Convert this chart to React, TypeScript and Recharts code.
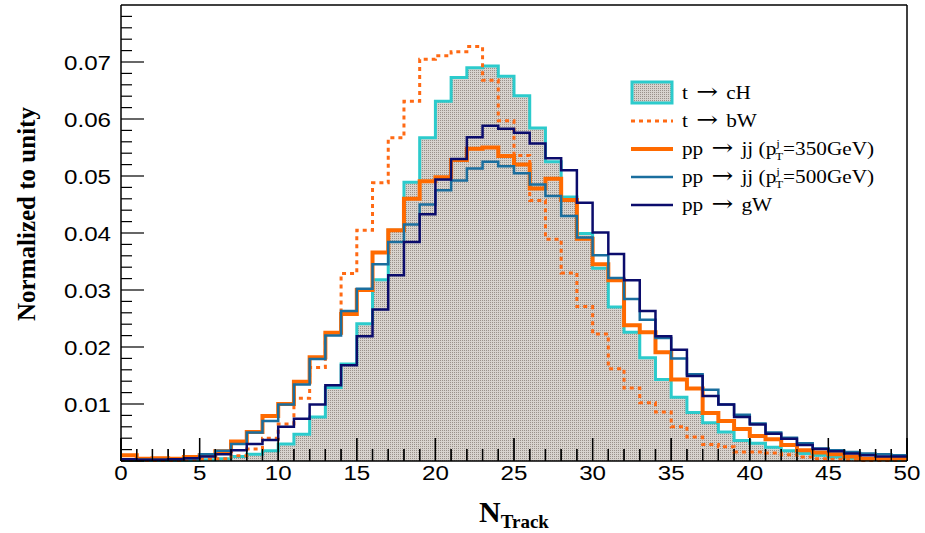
import React from "react";
import { ComposedChart, Area, Line, XAxis, YAxis, Legend, Label, ReferenceLine } from "recharts";

// bin lower edges, width 1, N_Track 0..50
const binEdges = Array.from({ length: 50 }, (_, i) => i);

const tToCH = [
  0.0001, 0.0001, 0.0001, 0.0001, 0.0001, 0.0002, 0.0004, 0.0008, 0.0012, 0.0018,
  0.003, 0.0047, 0.0077, 0.0129, 0.017, 0.0241, 0.0318, 0.0405, 0.0489, 0.0567,
  0.0631, 0.0673, 0.069, 0.0693, 0.0675, 0.0641, 0.0584, 0.0525, 0.0463, 0.0399,
  0.0338, 0.027, 0.0226, 0.0181, 0.0143, 0.0112, 0.0085, 0.0067, 0.0051, 0.0036,
  0.0031, 0.0024, 0.0018, 0.0013, 0.001, 0.0007, 0.0005, 0.0003, 0.0002, 0.0001,
];

const tToBW = [
  0.0001, 0.0001, 0.0001, 0.0001, 0.0002, 0.0003, 0.0004, 0.0009, 0.0021, 0.004,
  0.0065, 0.011, 0.0164, 0.0225, 0.0329, 0.0405, 0.0488, 0.0567, 0.0631, 0.0705,
  0.0711, 0.0718, 0.0727, 0.0668, 0.0597, 0.0536, 0.0457, 0.0389, 0.033, 0.0271,
  0.0223, 0.0162, 0.0128, 0.0102, 0.0086, 0.006, 0.0042, 0.0029, 0.0025, 0.0016,
  0.0016, 0.0014, 0.0011, 0.0007, 0.0004, 0.0003, 0.0002, 0.0001, 0.0001, 0.0001,
];

const ppJJ350 = [
  0.001, 0.0004, 0.0005, 0.0004, 0.0007, 0.001, 0.0017, 0.0034, 0.0051, 0.0079,
  0.01, 0.0139, 0.0182, 0.0225, 0.0258, 0.03, 0.0366, 0.0405, 0.046, 0.0491,
  0.0498, 0.0528, 0.0548, 0.055, 0.0535, 0.052, 0.0478, 0.0495, 0.0458, 0.039,
  0.0345, 0.0317, 0.0238, 0.0226, 0.0191, 0.0143, 0.0127, 0.0084, 0.007, 0.0056,
  0.0044, 0.0038, 0.0028, 0.0019, 0.0015, 0.0012, 0.0008, 0.0004, 0.0004, 0.0005,
];

const ppJJ500 = [
  0.0003, 0.0002, 0.0002, 0.0003, 0.0005, 0.0012, 0.0018, 0.003, 0.005, 0.007,
  0.0099, 0.0134, 0.0179, 0.022, 0.0263, 0.0302, 0.0345, 0.0384, 0.0415, 0.045,
  0.0475, 0.0492, 0.0513, 0.0525, 0.0517, 0.0505, 0.0485, 0.0465, 0.043, 0.0392,
  0.0361, 0.0321, 0.0284, 0.0248, 0.0216, 0.018, 0.0152, 0.0125, 0.0099, 0.0081,
  0.0066, 0.005, 0.0041, 0.0031, 0.0022, 0.0019, 0.0016, 0.0013, 0.0012, 0.001,
];

const ppGW = [
  0.0003, 0.0002, 0.0002, 0.0003, 0.0005, 0.0008, 0.0012, 0.0019, 0.003, 0.0037,
  0.006, 0.0074, 0.0099, 0.0133, 0.0168, 0.0219, 0.0266, 0.0326, 0.0384, 0.0433,
  0.0494, 0.053, 0.0568, 0.0588, 0.0583, 0.0576, 0.0557, 0.0531, 0.051, 0.0453,
  0.0401, 0.0363, 0.0317, 0.0263, 0.0219, 0.0195, 0.0149, 0.0114, 0.0099, 0.0077,
  0.0064, 0.0048, 0.0039, 0.0028, 0.0021, 0.0017, 0.0013, 0.001, 0.0008, 0.0008,
];

const xTicks = Array.from({ length: 51 }, (_, i) => i);
const yTicks = Array.from({ length: 40 }, (_, i) => i * 0.002);

const ARROW = "\u2192";

const series = [
  { key: "cH", values: tToCH, color: "#2ccbcc", width: 3, dash: undefined, fill: true,
    label: { a: "t", b: "cH" } },
  { key: "bW", values: tToBW, color: "#ff6a14", width: 3, dash: "4 4", fill: false,
    label: { a: "t", b: "bW" } },
  { key: "jj350", values: ppJJ350, color: "#ff6a00", width: 4, dash: undefined, fill: false,
    label: { a: "pp", b: "jj (p", sup: "j", sub: "T", post: "=350GeV)" } },
  { key: "jj500", values: ppJJ500, color: "#1a6e9e", width: 2.5, dash: undefined, fill: false,
    label: { a: "pp", b: "jj (p", sup: "j", sub: "T", post: "=500GeV)" } },
  { key: "gW", values: ppGW, color: "#0b0c6c", width: 2.5, dash: undefined, fill: false,
    label: { a: "pp", b: "gW" } },
];

// last point repeats the final bin so the step closes at 50
const data = [...binEdges, 50].map((x, i) => {
  const row: Record<string, number> = { x };
  series.forEach((s) => {
    row[s.key] = s.values[Math.min(i, s.values.length - 1)];
  });
  return row;
});

const W = 925;
const H = 533;
const LEFT = 121;
const RIGHT = 907;
const TOP = 5;
const BOTTOM = 461;
const Y_AXIS_W = 100;
const X_AXIS_H = 40;
const X_TICK_GAP = 4;
const Y_TICK_GAP = 10;
const X_MAX = 50;
const Y_MAX = 0.08;
const X_DOMAIN = [0, X_MAX];
const Y_DOMAIN = [0, Y_MAX];
// x tick marks point up into the frame: convert their pixel length to y units
const PX_TO_Y = Y_MAX / (BOTTOM - TOP);
const tickFont = "'Liberation Sans', Arial, sans-serif";
const serif = "'Liberation Serif', 'Times New Roman', serif";

const XTick = (props: any) => {
  const { x, y, payload } = props;
  const v = payload.value as number;
  const major = v % 5 === 0;
  const axisY = y - X_TICK_GAP;
  return (
    <g>
      <path d={`M${x},${axisY}V${axisY - (major ? 23 : 12)}`} stroke="#000" strokeWidth={1.3} fill="none" />
      {major && (
        <text transform={`translate(${x},${y}) scale(1.15,1)`} dy="0.72em" textAnchor="middle"
          fontFamily={tickFont} fontSize={21} fill="#000">
          {v}
        </text>
      )}
    </g>
  );
};

const YTick = (props: any) => {
  const { x, y, payload } = props;
  const v = payload.value as number;
  const k = Math.round(v * 1000);
  const major = k % 10 === 0;
  const axisX = x + Y_TICK_GAP;
  return (
    <g>
      <line x1={axisX} x2={axisX + (major ? 23 : 11)} y1={y} y2={y} stroke="#000" strokeWidth={1.2} />
      {major && k > 0 && (
        <text transform={`translate(${x},${y}) scale(1.15,1)`} dy="0.36em" textAnchor="end"
          fontFamily={tickFont} fontSize={21} fill="#000">
          {v.toFixed(2)}
        </text>
      )}
    </g>
  );
};

const XTitle = () => (
  <text x={(LEFT + RIGHT) / 2} y={522} textAnchor="middle" fontFamily={serif} fontWeight="bold" fill="#000">
    <tspan fontSize={30}>N</tspan>
    <tspan fontSize={19} dy={6}>Track</tspan>
  </text>
);

const YTitle = () => (
  <text transform="translate(35,214) rotate(-90)" textAnchor="middle" fontFamily={serif}
    fontWeight="bold" fontSize={25} fill="#000">
    Normalized to unity
  </text>
);

const rowY = [23, 51, 79, 107, 135];

const LegendBox = () => (
  <svg width={295} height={155}>
    {series.map((s, i) => {
      const cy = rowY[i];
      const l: any = s.label;
      return (
        <g key={s.key}>
          {s.fill ? (
            <rect x={12} y={cy - 11} width={40} height={21} fill="url(#hatch)" stroke={s.color} strokeWidth={3} />
          ) : (
            <line x1={11} x2={53} y1={cy} y2={cy} stroke={s.color} strokeWidth={s.width}
              strokeDasharray={s.dash} />
          )}
          <text transform={`translate(62,${cy}) scale(1.18,1)`} dy="0.33em" fontFamily={serif}
            fontSize={18} fill="#000">
            <tspan>{l.a}</tspan>
            <tspan dx={7} fontSize={22} fontFamily="'DejaVu Serif', serif">{ARROW}</tspan>
            <tspan dx={7}>{l.b}</tspan>
            {l.sup && <tspan fontSize={11} dy={-8}>{l.sup}</tspan>}
            {l.sub && <tspan fontSize={11} dx={-4} dy={13}>{l.sub}</tspan>}
            {l.post && <tspan dy={-5}>{l.post}</tspan>}
          </text>
        </g>
      );
    })}
  </svg>
);

const layer: React.CSSProperties = { position: "absolute", left: 0, top: 0 };
const fillSeries = series.filter((s) => s.fill);
const lineSeries = series.filter((s) => !s.fill);

export default function App() {
  return (
    <div style={{ position: "absolute", left: 0, top: 0, width: W, height: H, background: "#fff" }}>
      <svg width={0} height={0} style={{ position: "absolute" }}>
        <defs>
          <pattern id="hatch" width={2} height={2} patternUnits="userSpaceOnUse">
            <rect width={2} height={2} fill="#d8d3ce" />
            <rect width={1} height={1} fill="#9a918a" />
          </pattern>
        </defs>
      </svg>

      {/* filled t -> cH histogram underneath */}
      <div style={layer}>
        <ComposedChart
          width={W}
          height={H}
          data={data}
          margin={{ top: TOP, right: W - RIGHT, bottom: H - BOTTOM, left: LEFT }}
        >
          {fillSeries.map((s) => (
            <Area key={s.key} type="stepAfter" dataKey={s.key} stroke={s.color} strokeWidth={s.width}
              fill="url(#hatch)" fillOpacity={1} dot={false} activeDot={false} isAnimationActive={false} />
          ))}
          <XAxis dataKey="x" type="number" domain={X_DOMAIN} hide />
          <YAxis type="number" domain={Y_DOMAIN} hide />
        </ComposedChart>
      </div>

      {/* frame and ticks over the fill, then the outline histograms and legend */}
      <div style={layer}>
        <ComposedChart
          width={W}
          height={H}
          data={data}
          margin={{ top: TOP, right: W - RIGHT, bottom: H - BOTTOM - X_AXIS_H, left: LEFT - Y_AXIS_W }}
        >
          <XAxis dataKey="x" type="number" domain={X_DOMAIN} ticks={xTicks} interval={0} height={X_AXIS_H}
            tickSize={0} tickMargin={X_TICK_GAP} tickLine={false} tick={XTick}
            axisLine={{ stroke: "#000", strokeWidth: 1.5 }}>
            <Label content={XTitle} />
          </XAxis>
          <YAxis type="number" domain={Y_DOMAIN} ticks={yTicks} interval={0} width={Y_AXIS_W}
            tickSize={0} tickMargin={Y_TICK_GAP} tickLine={false} tick={YTick}
            axisLine={{ stroke: "#000", strokeWidth: 1.5 }}>
            <Label content={YTitle} />
          </YAxis>
          <ReferenceLine y={Y_MAX} stroke="#000" strokeWidth={1.5} />
          <ReferenceLine x={X_MAX} stroke="#000" strokeWidth={1.5} />
          {xTicks.map((v) => (
            <ReferenceLine key={`xt${v}`} stroke="#000" strokeWidth={1.3} ifOverflow="visible"
              segment={[{ x: v, y: 0.00001 }, { x: v, y: (v % 5 === 0 ? 23 : 12) * PX_TO_Y }]} />
          ))}
          {lineSeries.map((s) => (
            <Line key={s.key} type="stepAfter" dataKey={s.key} stroke={s.color} strokeWidth={s.width}
              strokeDasharray={s.dash} dot={false} activeDot={false} isAnimationActive={false} />
          ))}
          <Legend layout="vertical" align="center" verticalAlign="middle" content={LegendBox}
            wrapperStyle={{ left: 620, top: 70, width: 295, height: 155 }} />
        </ComposedChart>
      </div>
    </div>
  );
}
